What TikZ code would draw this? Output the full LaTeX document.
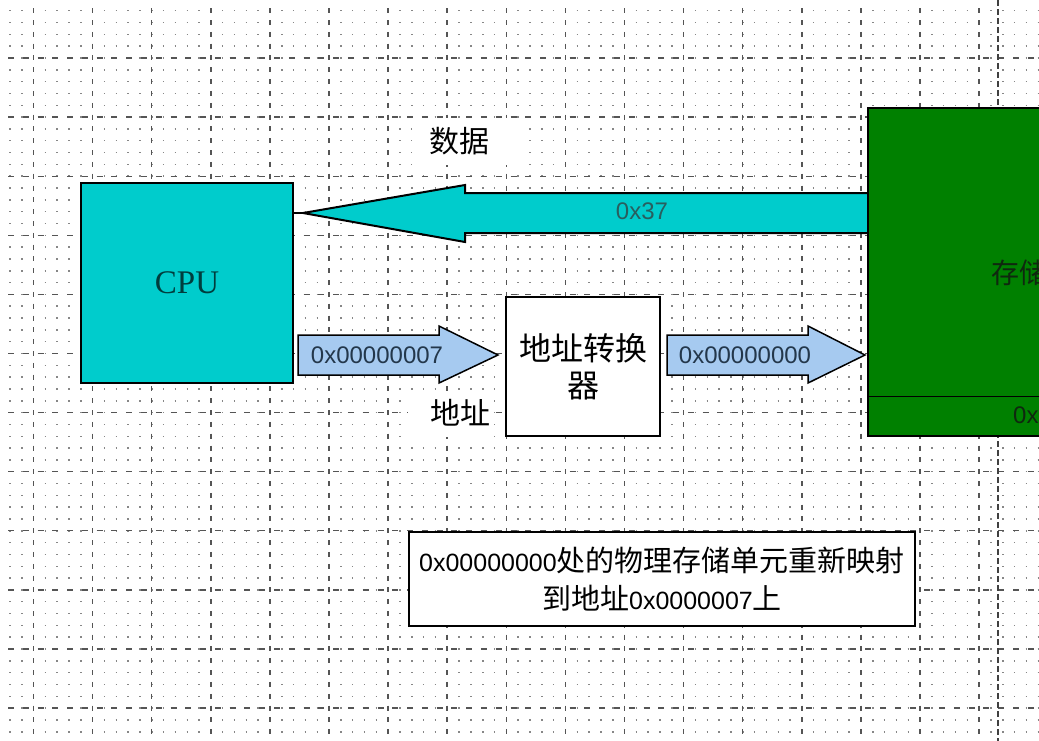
\documentclass[tikz,border=0pt]{standalone}
\usepackage{fontspec}
\setmainfont{Liberation Sans}
\newfontfamily\cjk{Noto Sans CJK SC}
\newfontfamily\cpufont{Liberation Serif}
\definecolor{cpucyan}{RGB}{0,204,204}
\definecolor{addrblue}{RGB}{166,202,240}
\definecolor{memgreen}{RGB}{0,128,0}
\definecolor{gridgray}{RGB}{135,135,135}
\definecolor{majorgray}{RGB}{85,85,85}
\definecolor{arrowtext}{RGB}{35,55,75}
\definecolor{datatext}{RGB}{40,95,95}
\definecolor{memtext}{RGB}{15,40,15}
\begin{document}
\begin{tikzpicture}[x=1pt,y=-1pt,
  dotrow/.style={gridgray, line width=1.5pt, dash pattern=on 1.5pt off 10.32pt},
  majorh/.style={majorgray, line width=1.3pt, dash pattern=on 6pt off 8.78pt},
  majorv/.style={majorgray, line width=1.5pt, dash pattern=on 5pt off 6.82pt},
  pageline/.style={black!75, line width=2.2pt, dash pattern=on 6pt off 3pt},
  box/.style={draw=black, line width=1.5pt},
  blockarrow/.style={draw=black, line width=1.5pt},
  cjktext/.style={font=\cjk\fontsize{30}{37}\selectfont},
  lattext/.style={font=\fontsize{24}{26}\selectfont}]
\useasboundingbox (0,0) rectangle (1039,740);
\clip (0,0) rectangle (1039,740);
\fill[white] (0,0) rectangle (1039,740);
% dotted grid
\foreach \i in {0,...,61} {
  \draw[dotrow] (9.2,{10.72+\i*11.82}) -- (1045,{10.72+\i*11.82});
}
\foreach \k in {0,...,11} {
  \draw[majorh] (8,{58+\k*59.1}) -- (1045,{58+\k*59.1});
}
\foreach \k in {0,...,16} {
  \draw[majorv] ({33.5+\k*59.1},8.2) -- ({33.5+\k*59.1},745);
}
\draw[pageline] (998,0) -- (998,745);

% data arrow (memory -> CPU)
\coordinate (dtip) at (303,213);
\draw[blockarrow, fill=cpucyan, line width=2pt] (dtip) -- (465,185) -- (465,193) -- (872,193) -- (872,233) -- (465,233) -- (465,242) -- cycle;
\node[lattext, text=datatext] (dval) at (642,211) {0x37};

% CPU
\node[box, fill=cpucyan, minimum width=212pt, minimum height=200pt,
      font=\cpufont\fontsize{33}{36}\selectfont, text=black!70!cpucyan] (cpu) at (187,283) {CPU};
\draw[line width=2.5pt] (cpu.east |- dtip) -- (dtip);

% labels with white background
\fill[white] (412,118) rectangle (522,165);
\node[cjktext] (dlabel) at (459,141) {数据};
\fill[white] (408,391) rectangle (494,437);
\node[cjktext] (alabel) at (460,413) {地址};

% address converter
\node[box, fill=white, minimum width=154pt, minimum height=139pt, align=center,
      font=\cjk\fontsize{32}{37}\selectfont] (conv) at (583,366.5) {地址转换\\器};

% address arrow 1 (CPU -> converter)
\coordinate (a1tip) at (498,355);
\draw[blockarrow, fill=addrblue] (298,335) -- (439,335) -- (439,326) -- (a1tip) -- (439,383) -- (439,375) -- (298,375) -- cycle;
\node[lattext, text=arrowtext] (a1val) at (377,355) {0x00000007};

% address arrow 2 (converter -> memory)
\coordinate (a2tip) at (865,355);
\draw[blockarrow, fill=addrblue] (667,335) -- (808,335) -- (808,326) -- (a2tip) -- (808,383) -- (808,375) -- (667,375) -- cycle;
\node[lattext, text=arrowtext] (a2val) at (745,355) {0x00000000};

% memory
\node[box, fill=memgreen, anchor=north west, minimum width=220pt, minimum height=328pt] (mem) at (867,107) {};
\draw[line width=1.5pt] ([yshift=40pt]mem.south west) -- ([yshift=40pt]mem.south east);
\node[anchor=west, text=memtext, font=\cjk\fontsize{28}{30}\selectfont, inner sep=0pt] (memlabel) at (991,273) {存储};
\node[anchor=west, text=memtext, lattext, inner sep=0pt] (memaddr) at (1013,415) {0x};

% note
\node[box, fill=white, minimum width=506pt, minimum height=94pt, align=center,
      font=\fontsize{25}{38}\selectfont] (note) at (662,579)
  {0x00000000{\cjk\fontsize{29}{38}\selectfont 处的物理存储单元重新映射}\\{\cjk\fontsize{29}{38}\selectfont 到地址}0x0000007{\cjk\fontsize{29}{38}\selectfont 上}};
\end{tikzpicture}
\end{document}
